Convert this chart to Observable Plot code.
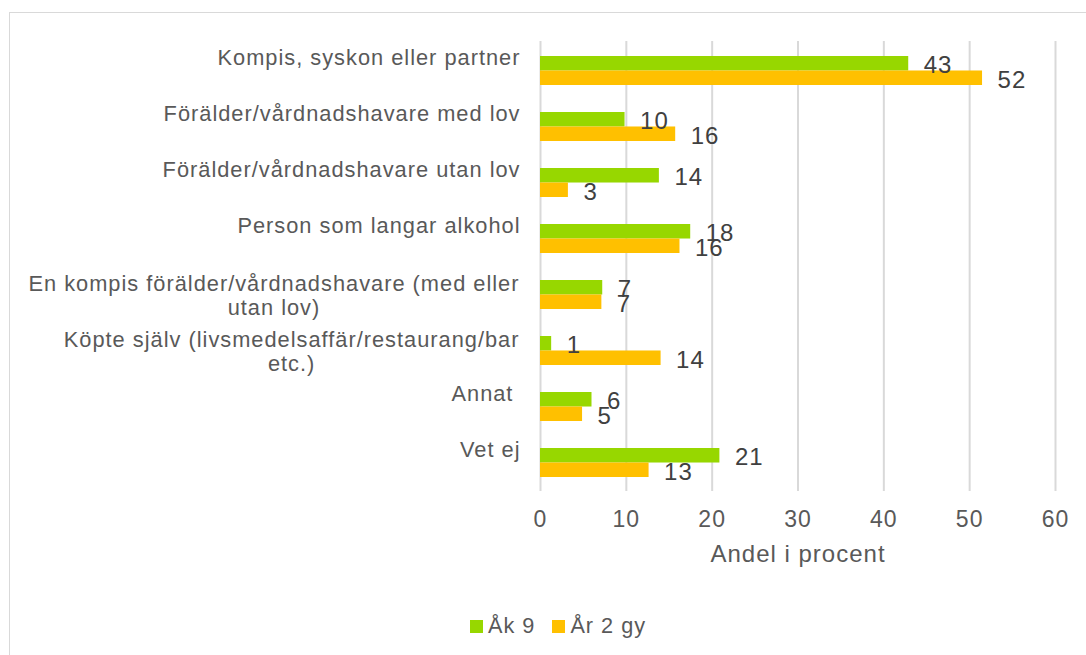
<!DOCTYPE html>
<html><head><meta charset="utf-8">
<script src="https://cdn.jsdelivr.net/npm/d3@7"></script>
<script src="https://cdn.jsdelivr.net/npm/@observablehq/plot@0.6"></script>
<style>
body{margin:0;background:#fff;font-family:"Liberation Sans",Arial,sans-serif;}
#frame{position:absolute;left:9px;top:12px;width:1090px;height:660px;border:1.5px solid #d9d9d9;box-sizing:border-box}
#chart{position:absolute;left:0;top:0}
#chart svg text{white-space:pre;letter-spacing:1px}
#legend{position:absolute;left:470px;top:613px;display:flex;align-items:center;font-size:21.7px;letter-spacing:1px;color:#595959}
#legend .sw{width:13px;height:13px;display:inline-block;margin-right:5px}
#legend .it{display:flex;align-items:center;margin-right:17px}
</style></head><body>
<div id="frame"></div>
<div id="chart"></div>
<div id="legend"></div>
<script>
const categories = [
  "Kompis, syskon eller partner",
  "Förälder/vårdnadshavare med lov",
  "Förälder/vårdnadshavare utan lov",
  "Person som langar alkohol",
  "En kompis förälder/vårdnadshavare (med eller\nutan lov)",
  "Köpte själv (livsmedelsaffär/restaurang/bar\netc.)",
  "Annat ",
  "Vet ej"
];
const series = ["Åk 9", "År 2 gy"];
const ak9Values = [42.9, 9.85, 13.85, 17.5, 7.25, 1.3, 6.0, 20.9];
const ar2Values = [51.5, 15.75, 3.25, 16.25, 7.15, 14.05, 4.9, 12.65];
const ak9Labels = ["43", "10", "14", "18", "7", "1", "6", "21"];
const ar2Labels = ["52", "16", "3", "16", "7", "14", "5", "13"];
const xTicks = [0, 10, 20, 30, 40, 50, 60];
const colors = ["#97d700", "#ffc000"];
const xTitle = "Andel i procent";

const W = 1086, H = 590, mL = 540, mR = 31, mT = 41, mB = 99;
const padIn = 0.485, padOut = 0.2425;
const step = (H - mT - mB) / (categories.length - padIn + 2 * padOut);
const half = step * (1 - padIn) / 2;
const labelSize = 21.8, letterSp = 1;

const ak9 = categories.map((c, i) => ({cat: c, value: ak9Values[i], label: ak9Labels[i]}));
const ar2 = categories.map((c, i) => ({cat: c, value: ar2Values[i], label: ar2Labels[i]}));

const font = "'Liberation Sans', Arial, sans-serif";
const ctx = document.createElement("canvas").getContext("2d");
ctx.font = `${labelSize}px 'Liberation Sans', Arial, sans-serif`;
const textWidth = s => ctx.measureText(s).width + letterSp * s.length;

const singleRows = categories.filter(c => !c.includes("\n")).map(c => ({cat: c}));
const multiMarks = categories.filter(c => c.includes("\n")).map(c => {
  const lines = c.split("\n");
  const w = Math.max(...lines.map(textWidth));
  return Plot.text([{cat: c}], {y: "cat", text: "cat", frameAnchor: "left", textAnchor: "middle",
    dx: -21 - w / 2, dy: 0, lineHeight: 24 / labelSize, fill: "#595959", fontSize: labelSize});
});

const chart = Plot.plot({
  width: W, height: H,
  marginLeft: mL, marginRight: mR, marginTop: mT, marginBottom: mB,
  style: {fontFamily: font, fontSize: "20px", color: "#595959", background: "transparent"},
  x: {domain: [0, 60], axis: null},
  y: {domain: categories, paddingInner: padIn, paddingOuter: padOut, axis: null},
  marks: [
    Plot.ruleX(xTicks, {stroke: "#d9d9d9", strokeWidth: 2}),
    Plot.barX(ak9, {y: "cat", x: "value", fill: colors[0], insetBottom: half}),
    Plot.barX(ar2, {y: "cat", x: "value", fill: colors[1], insetTop: half}),
    Plot.text(ak9, {y: "cat", x: "value", text: "label", dx: 15, dy: -half / 2 + 2, textAnchor: "start", fill: "#404040", fontSize: 24}),
    Plot.text(ar2, {y: "cat", x: "value", text: "label", dx: 15, dy: half / 2 + 2, textAnchor: "start", fill: "#404040", fontSize: 24}),
    Plot.text(singleRows, {y: "cat", text: "cat", frameAnchor: "left", textAnchor: "end", dx: -20, dy: -13, fill: "#595959", fontSize: labelSize}),
    ...multiMarks,
    Plot.text(xTicks, {x: d => d, text: d => String(d), frameAnchor: "bottom", dy: 35, fill: "#595959", fontSize: 23}),
    Plot.text([xTitle], {text: d => d, frameAnchor: "bottom", dy: 70, fill: "#595959", fontSize: 24})
  ]
});
document.getElementById("chart").appendChild(chart);

const legend = document.getElementById("legend");
series.forEach((s, i) => {
  const it = document.createElement("span");
  it.className = "it";
  const sw = document.createElement("span");
  sw.className = "sw";
  sw.style.background = colors[i];
  it.appendChild(sw);
  it.appendChild(document.createTextNode(s));
  legend.appendChild(it);
});
</script>
</body></html>
